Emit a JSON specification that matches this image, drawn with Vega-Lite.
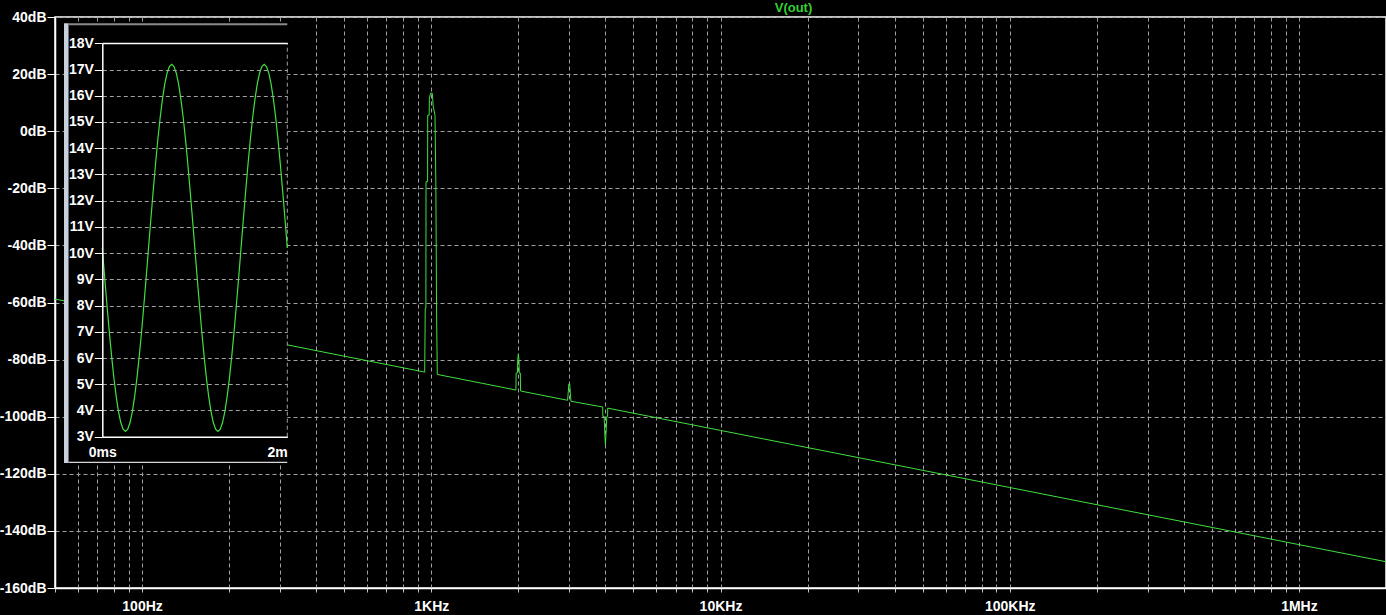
{
  "$schema": "https://vega.github.io/schema/vega-lite/v6.json",
  "width": 1331,
  "height": 571,
  "autosize": {"type": "none"},
  "padding": {"left": 55, "top": 17, "right": 0, "bottom": 27},
  "background": "black",
  "view": {"stroke": "white", "strokeWidth": 1.5, "fill": "black"},
  "title": {"text": "V(out)", "color": "#34d034", "font": "Liberation Sans", "fontSize": 13, "fontWeight": "bold", "dx": 73, "offset": -5, "frame": "group"},
  "config": {
    "axis": {"labelFont": "Liberation Sans", "labelFontSize": 14, "labelFontWeight": "bold", "labelColor": "white", "domainColor": "white", "domainWidth": 1.5, "title": null}
  },
  "datasets": {
    "spectrum": [
      {"freq": 50, "db": -58.8}, {"freq": 100, "db": -64.8}, {"freq": 200, "db": -70.8}, {"freq": 500, "db": -78.8},
      {"freq": 900, "db": -83.9}, {"freq": 949, "db": -84.4}, {"freq": 953, "db": -62}, {"freq": 958, "db": -62},
      {"freq": 959, "db": -17.7}, {"freq": 971, "db": -17.7}, {"freq": 972, "db": 5.6}, {"freq": 983, "db": 5.6},
      {"freq": 985, "db": 11.6}, {"freq": 995, "db": 13.3}, {"freq": 1008, "db": 13.3}, {"freq": 1016, "db": 8.5},
      {"freq": 1030, "db": 5.6}, {"freq": 1037, "db": -18.2}, {"freq": 1043, "db": -62.6}, {"freq": 1049, "db": -85.2},
      {"freq": 1500, "db": -88.3}, {"freq": 1948, "db": -90.6}, {"freq": 1962, "db": -90.7}, {"freq": 1965, "db": -84.7},
      {"freq": 1985, "db": -84.7}, {"freq": 1990, "db": -80.1}, {"freq": 2000, "db": -78}, {"freq": 2010, "db": -80.1},
      {"freq": 2015, "db": -84.7}, {"freq": 2032, "db": -84.7}, {"freq": 2036, "db": -91.0}, {"freq": 2960, "db": -94.25},
      {"freq": 2975, "db": -91.5}, {"freq": 2990, "db": -88.5}, {"freq": 3010, "db": -88.5}, {"freq": 3025, "db": -91.5},
      {"freq": 3040, "db": -94.6}, {"freq": 3915, "db": -96.6}, {"freq": 3920, "db": -99.9}, {"freq": 3960, "db": -99.9},
      {"freq": 3980, "db": -105.8}, {"freq": 4000, "db": -109.9}, {"freq": 4020, "db": -105.8}, {"freq": 4045, "db": -99.9},
      {"freq": 4070, "db": -99.9}, {"freq": 4075, "db": -97.0}, {"freq": 10000, "db": -104.8}, {"freq": 100000, "db": -124.8},
      {"freq": 1000000, "db": -144.8}, {"freq": 2000000, "db": -150.8}
    ],
    "wave": [
      {"t": 0, "v": 10.2}, {"t": 0.025, "v": 9.1}, {"t": 0.05, "v": 8.04}, {"t": 0.075, "v": 7.02}, {"t": 0.1, "v": 6.09},
      {"t": 0.125, "v": 5.25}, {"t": 0.15, "v": 4.54}, {"t": 0.175, "v": 3.96}, {"t": 0.2, "v": 3.54}, {"t": 0.225, "v": 3.29},
      {"t": 0.25, "v": 3.2}, {"t": 0.275, "v": 3.29}, {"t": 0.3, "v": 3.54}, {"t": 0.325, "v": 3.96}, {"t": 0.35, "v": 4.54},
      {"t": 0.375, "v": 5.25}, {"t": 0.4, "v": 6.09}, {"t": 0.425, "v": 7.02}, {"t": 0.45, "v": 8.04}, {"t": 0.475, "v": 9.1},
      {"t": 0.5, "v": 10.2}, {"t": 0.525, "v": 11.3}, {"t": 0.55, "v": 12.36}, {"t": 0.575, "v": 13.38}, {"t": 0.6, "v": 14.32},
      {"t": 0.625, "v": 15.15}, {"t": 0.65, "v": 15.86}, {"t": 0.675, "v": 16.44}, {"t": 0.7, "v": 16.86}, {"t": 0.725, "v": 17.11},
      {"t": 0.75, "v": 17.2}, {"t": 0.775, "v": 17.11}, {"t": 0.8, "v": 16.86}, {"t": 0.825, "v": 16.44}, {"t": 0.85, "v": 15.86},
      {"t": 0.875, "v": 15.15}, {"t": 0.9, "v": 14.32}, {"t": 0.925, "v": 13.38}, {"t": 0.95, "v": 12.36}, {"t": 0.975, "v": 11.3},
      {"t": 1.0, "v": 10.2}, {"t": 1.025, "v": 9.1}, {"t": 1.05, "v": 8.04}, {"t": 1.075, "v": 7.02}, {"t": 1.1, "v": 6.09},
      {"t": 1.125, "v": 5.25}, {"t": 1.15, "v": 4.54}, {"t": 1.175, "v": 3.96}, {"t": 1.2, "v": 3.54}, {"t": 1.225, "v": 3.29},
      {"t": 1.25, "v": 3.2}, {"t": 1.275, "v": 3.29}, {"t": 1.3, "v": 3.54}, {"t": 1.325, "v": 3.96}, {"t": 1.35, "v": 4.54},
      {"t": 1.375, "v": 5.25}, {"t": 1.4, "v": 6.09}, {"t": 1.425, "v": 7.02}, {"t": 1.45, "v": 8.04}, {"t": 1.475, "v": 9.1},
      {"t": 1.5, "v": 10.2}, {"t": 1.525, "v": 11.3}, {"t": 1.55, "v": 12.36}, {"t": 1.575, "v": 13.38}, {"t": 1.6, "v": 14.32},
      {"t": 1.625, "v": 15.15}, {"t": 1.65, "v": 15.86}, {"t": 1.675, "v": 16.44}, {"t": 1.7, "v": 16.86}, {"t": 1.725, "v": 17.11},
      {"t": 1.75, "v": 17.2}, {"t": 1.775, "v": 17.11}, {"t": 1.8, "v": 16.86}, {"t": 1.825, "v": 16.44}, {"t": 1.85, "v": 15.86},
      {"t": 1.875, "v": 15.15}, {"t": 1.9, "v": 14.32}, {"t": 1.925, "v": 13.38}, {"t": 1.95, "v": 12.36}, {"t": 1.975, "v": 11.3},
      {"t": 2.0, "v": 10.2}
    ]
  },
  "layer": [
    {
      "data": {"name": "spectrum"},
      "mark": {"type": "line", "color": "#40e040", "strokeWidth": 1},
      "encoding": {
        "x": {
          "field": "freq", "type": "quantitative",
          "scale": {"type": "log", "domain": [50, 2000000], "nice": false},
          "axis": {
            "orient": "bottom",
            "values": [50, 60, 70, 80, 90, 100, 200, 300, 400, 500, 600, 700, 800, 900, 1000, 2000, 3000, 4000, 5000, 6000, 7000, 8000, 9000, 10000, 20000, 30000, 40000, 50000, 60000, 70000, 80000, 90000, 100000, 200000, 300000, 400000, 500000, 600000, 700000, 800000, 900000, 1000000, 2000000],
            "tickCount": 200,
            "grid": true, "gridColor": "#a0a0a0", "gridDash": [4, 3], "gridWidth": 1,
            "tickColor": "#c0c0c0", "tickSize": 4,
            "labelExpr": "datum.value == 100 ? '100Hz' : datum.value == 1000 ? '1KHz' : datum.value == 10000 ? '10KHz' : datum.value == 100000 ? '100KHz' : datum.value == 1000000 ? '1MHz' : ''",
            "labelPadding": 7, "labelOverlap": false, "labelFlush": false, "labelBound": false
          }
        },
        "y": {
          "field": "db", "type": "quantitative",
          "scale": {"domain": [-160, 40], "nice": false, "zero": false},
          "axis": {
            "orient": "left",
            "values": [-160, -140, -120, -100, -80, -60, -40, -20, 0, 20, 40],
            "tickCount": 100,
            "grid": true, "gridColor": "#a0a0a0", "gridDash": [4, 3], "gridWidth": 1,
            "tickColor": "white", "tickSize": 8, "labelPadding": 1,
            "labelExpr": "datum.value + 'dB'", "labelOverlap": false
          }
        }
      }
    },
    {
      "layer": [
        {
          "data": {"values": [{"part": "window"}]},
          "mark": {"type": "rect", "color": "black"},
          "encoding": {
            "x": {"datum": -0.414, "type": "quantitative", "scale": {"domain": [0, 2], "range": [47.3, 232.3], "nice": false, "zero": false}},
            "x2": {"datum": 2},
            "y": {"datum": 2.0, "type": "quantitative", "scale": {"domain": [3, 18], "range": [419.7, 26.3], "nice": false, "zero": false}},
            "y2": {"datum": 18.76}
          }
        },
        {
          "data": {"values": [{"part": "left border"}]},
          "mark": {"type": "rect", "color": "#c8d0dc"},
          "encoding": {
            "x": {"datum": -0.414, "type": "quantitative"},
            "x2": {"datum": -0.365},
            "y": {"datum": 2.0, "type": "quantitative"},
            "y2": {"datum": 18.76}
          }
        },
        {
          "data": {"values": [{"part": "top border"}]},
          "mark": {"type": "rect", "color": "#8a8a8a"},
          "encoding": {
            "x": {"datum": -0.365, "type": "quantitative"},
            "x2": {"datum": 2},
            "y": {"datum": 18.69, "type": "quantitative"},
            "y2": {"datum": 18.76}
          }
        },
        {
          "data": {"values": [{"part": "bottom border"}]},
          "mark": {"type": "rect", "color": "#d8d8d8"},
          "encoding": {
            "x": {"datum": -0.365, "type": "quantitative"},
            "x2": {"datum": 2},
            "y": {"datum": 2.0, "type": "quantitative"},
            "y2": {"datum": 2.045}
          }
        },
        {
          "data": {"values": [{"part": "2ms grid line"}]},
          "mark": {"type": "rule", "color": "#a0a0a0", "strokeDash": [4, 3], "strokeWidth": 1},
          "encoding": {
            "x": {"datum": 2, "type": "quantitative"},
            "y": {"datum": 3, "type": "quantitative"},
            "y2": {"datum": 18}
          }
        },
        {
          "data": {"name": "wave"},
          "mark": {"type": "line", "color": "#40e040", "strokeWidth": 1.2},
          "encoding": {
            "x": {
              "field": "t", "type": "quantitative",
              "scale": {"domain": [0, 2], "range": [47.3, 232.3], "nice": false, "zero": false},
              "axis": {
                "orient": "bottom", "offset": -151.3, "values": [0, 2], "tickCount": 100, "zindex": 1,
                "grid": false,
                "ticks": false,
                "labelExpr": "datum.value == 0 ? '0ms' : '2m'",
                "labelAlign": {"condition": {"test": "datum.value == 2", "value": "right"}, "value": "center"},
                "labelPadding": 9, "labelOverlap": false, "labelFlush": false, "labelBound": false
              }
            },
            "y": {
              "field": "v", "type": "quantitative",
              "scale": {"domain": [3, 18], "range": [419.7, 26.3], "nice": false, "zero": false},
              "axis": {
                "orient": "left", "offset": -47.3, "zindex": 1,
                "values": [3, 4, 5, 6, 7, 8, 9, 10, 11, 12, 13, 14, 15, 16, 17, 18],
                "tickCount": 100,
                "grid": true,
                "gridColor": {"condition": {"test": "datum.value == 18", "value": "white"}, "value": "#a0a0a0"},
                "gridDash": {"condition": {"test": "datum.value == 18", "value": []}, "value": [4, 3]},
                "gridWidth": {"condition": {"test": "datum.value == 18", "value": 1.5}, "value": 1},
                "tickColor": "white", "tickSize": 8, "labelPadding": 1,
                "labelExpr": "datum.value + 'V'", "labelOverlap": false, "labelFlush": false, "labelBound": false
              }
            }
          }
        }
      ]
    }
  ],
  "resolve": {"scale": {"x": "independent", "y": "independent"}, "axis": {"x": "independent", "y": "independent"}}
}
